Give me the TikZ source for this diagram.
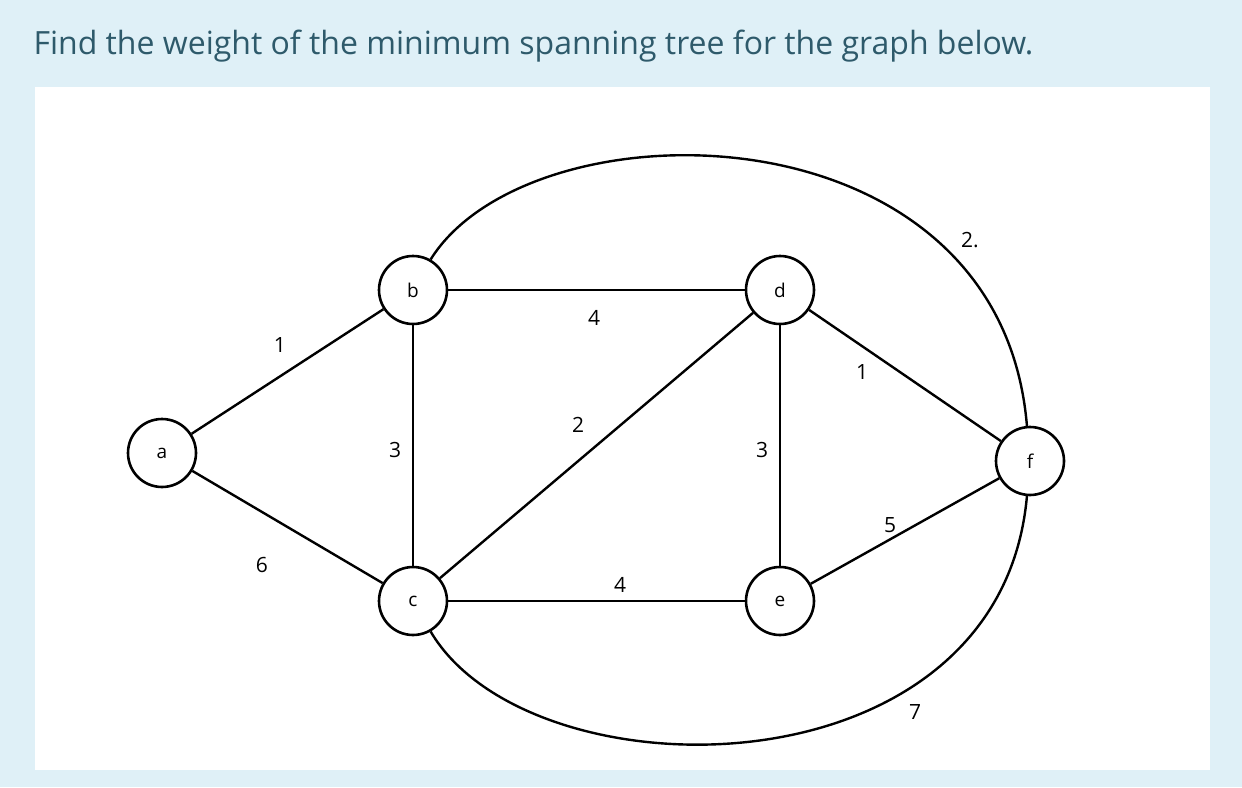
\documentclass[tikz,border=0pt]{standalone}
\usepackage{fontspec}
\setmainfont{Open Sans}
\usetikzlibrary{positioning}
\definecolor{bgblue}{HTML}{DFF0F7}
\definecolor{titlecol}{HTML}{2E5A6B}
\begin{document}
\begin{tikzpicture}[
        x=1pt, y=-1pt,
        vertex/.style = {
            draw,
            circle,
            fill=white,
            line width = 2.6pt,
            minimum size = 68pt,
            inner sep = 0pt,
            font=\fontsize{19}{19}\selectfont
        },
        edge/.style = {line width = 2.4pt},
        wt/.style = {font=\fontsize{21}{21}\selectfont}
    ]
    \fill[bgblue] (0,0) rectangle (1242,787);
    \fill[white] (35,87) rectangle (1210,770);
    \useasboundingbox (0,0) rectangle (1242,787);
    \node[anchor=west, text=titlecol, font=\fontsize{32}{32}\selectfont] (title) at (30,46) {Find the weight of the minimum spanning tree for the graph below.};

    \node[vertex] (a) at (162,453) {a};
    \node[vertex] (b) at (413,290) {b};
    \node[vertex] (c) at (413,601) {c};
    \node[vertex] (d) at (780,290) {d};
    \node[vertex] (e) at (780,601) {e};
    \node[vertex] (f) at (1030,461) {f};

    \draw[edge] (a) -- (b);
    \draw[edge] (a) -- (c);
    \draw[edge] (b) -- (c);
    \draw[edge] (b) -- (d);
    \draw[edge] (c) -- (d);
    \draw[edge] (c) -- (e);
    \draw[edge] (d) -- (e);
    \draw[edge] (d) -- (f);
    \draw[edge] (e) -- (f);
    \draw[edge] (b.60) .. controls (530,100) and (1000,100) .. (f.95);
    \draw[edge] (c.-60) .. controls (530,800) and (1000,800) .. (f.-95);

    \node[wt] (w1) at (280,345) {1};
    \node[wt] (w2) at (262,565) {6};
    \node[wt] (w3) at (395,450) {3};
    \node[wt] (w4) at (594,318) {4};
    \node[wt] (w5) at (578,425) {2};
    \node[wt] (w6) at (620,585) {4};
    \node[wt] (w7) at (762,450) {3};
    \node[wt] (w8) at (862,372) {1};
    \node[wt] (w9) at (890,525) {5};
    \node[wt] (w10) at (970,240) {2.};
    \node[wt] (w11) at (915,712) {7};
\end{tikzpicture}
\end{document}
